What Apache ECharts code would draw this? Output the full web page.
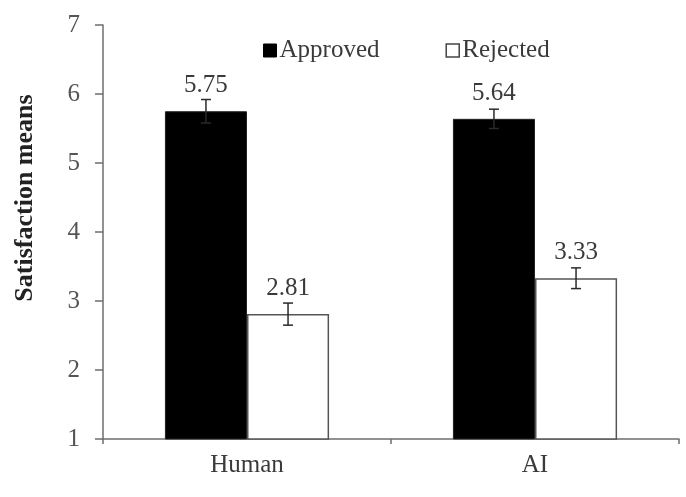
<!DOCTYPE html>
<html>
<head>
<meta charset="utf-8">
<script src="https://cdn.jsdelivr.net/npm/echarts@6/dist/echarts.min.js"></script>
<style>
  html, body { margin: 0; padding: 0; background: #fff; }
  #chart { width: 686px; height: 497px; }
</style>
</head>
<body>
<div id="chart"></div>
<script>
// Satisfaction means by decision maker and outcome
var categories = ['Human', 'AI'];
var approved = [5.75, 5.64];
var rejected = [2.81, 3.33];
// standard errors (half-length of whiskers)
var approvedErr = [0.17, 0.14];
var rejectedErr = [0.16, 0.15];
var yTicks = [1, 2, 3, 4, 5, 6, 7];

var FONT = '"Liberation Serif", "DejaVu Serif", serif';
var TEXT = '#3a3a3a';
var AXIS = '#6e6e6e';

// Width of each bar as a fraction of the category band
var BAR_FRAC = 0.285;

function errorSeries(values, errs, sideSign) {
  var data = values.map(function (v, i) { return [i, v, errs[i]]; });
  return {
    type: 'custom',
    silent: true,
    z: 5,
    data: data,
    renderItem: function (params, api) {
      var idx = api.value(0);
      var mean = api.value(1);
      var err = api.value(2);
      var center = api.coord([idx, mean]);
      var bandW = api.size([1, 0])[0];
      var x = center[0] + sideSign * bandW * BAR_FRAC / 2;
      var top = api.coord([idx, mean + err])[1];
      var bot = api.coord([idx, mean - err])[1];
      var cap = 5;
      var style = { stroke: '#2a2a2a', lineWidth: 1.5, fill: null };
      return {
        type: 'group',
        children: [
          { type: 'line', shape: { x1: x, y1: top, x2: x, y2: bot }, style: style },
          { type: 'line', shape: { x1: x - cap, y1: top, x2: x + cap, y2: top }, style: style },
          { type: 'line', shape: { x1: x - cap, y1: bot, x2: x + cap, y2: bot }, style: style }
        ]
      };
    }
  };
}

var chart = echarts.init(document.getElementById('chart'), null, { renderer: 'canvas' });

var valueLabel = {
  show: true, position: 'top', distance: 13,
  fontFamily: FONT, fontSize: 25, color: TEXT,
  formatter: function (p) { return p.value.toFixed(2); }
};

chart.setOption({
  animation: false,
  backgroundColor: '#ffffff',
  textStyle: { fontFamily: FONT },
  grid: { left: 103, right: 7, top: 25, bottom: 58, containLabel: false },
  legend: {
    top: 33,
    left: 258,
    itemGap: 66,
    itemWidth: 13,
    itemHeight: 13,
    icon: 'rect',
    textStyle: { fontFamily: FONT, fontSize: 25, color: TEXT, padding: [0, 0, 0, -2] },
    data: [
      { name: 'Approved', itemStyle: { color: '#000', borderColor: '#000', borderWidth: 1 } },
      { name: 'Rejected', itemStyle: { color: '#fff', borderColor: '#444', borderWidth: 1.5 } }
    ]
  },
  xAxis: {
    type: 'category',
    data: categories,
    axisLine: { show: true, lineStyle: { color: AXIS, width: 1.5 } },
    axisTick: { show: true, length: 5, inside: false, lineStyle: { color: AXIS, width: 1.5 } },
    axisLabel: { fontFamily: FONT, fontSize: 25, color: TEXT, margin: 14 },
    splitLine: { show: false }
  },
  yAxis: {
    type: 'value',
    min: yTicks[0],
    max: yTicks[yTicks.length - 1],
    interval: 1,
    name: 'Satisfaction means',
    nameLocation: 'middle',
    nameGap: 65,
    nameRotate: 90,
    nameTextStyle: {
      fontFamily: FONT, fontSize: 26, fontWeight: 'bold', color: '#222',
      padding: [0, 0, 0, 68]
    },
    axisLine: { show: true, lineStyle: { color: AXIS, width: 1.5 } },
    axisTick: { show: true, length: 8, lineStyle: { color: AXIS, width: 1.5 } },
    axisLabel: { fontFamily: FONT, fontSize: 25, color: '#555', margin: 23 },
    splitLine: { show: false }
  },
  series: [
    {
      name: 'Approved',
      type: 'bar',
      data: approved,
      barWidth: (BAR_FRAC * 100) + '%',
      barGap: '0%',
      itemStyle: { color: '#000', borderColor: '#222', borderWidth: 1 },
      label: valueLabel
    },
    {
      name: 'Rejected',
      type: 'bar',
      data: rejected,
      barWidth: (BAR_FRAC * 100) + '%',
      barGap: '0%',
      itemStyle: { color: '#fff', borderColor: '#555', borderWidth: 1.5 },
      label: valueLabel
    },
    errorSeries(approved, approvedErr, -1),
    errorSeries(rejected, rejectedErr, 1)
  ]
});
</script>
</body>
</html>
